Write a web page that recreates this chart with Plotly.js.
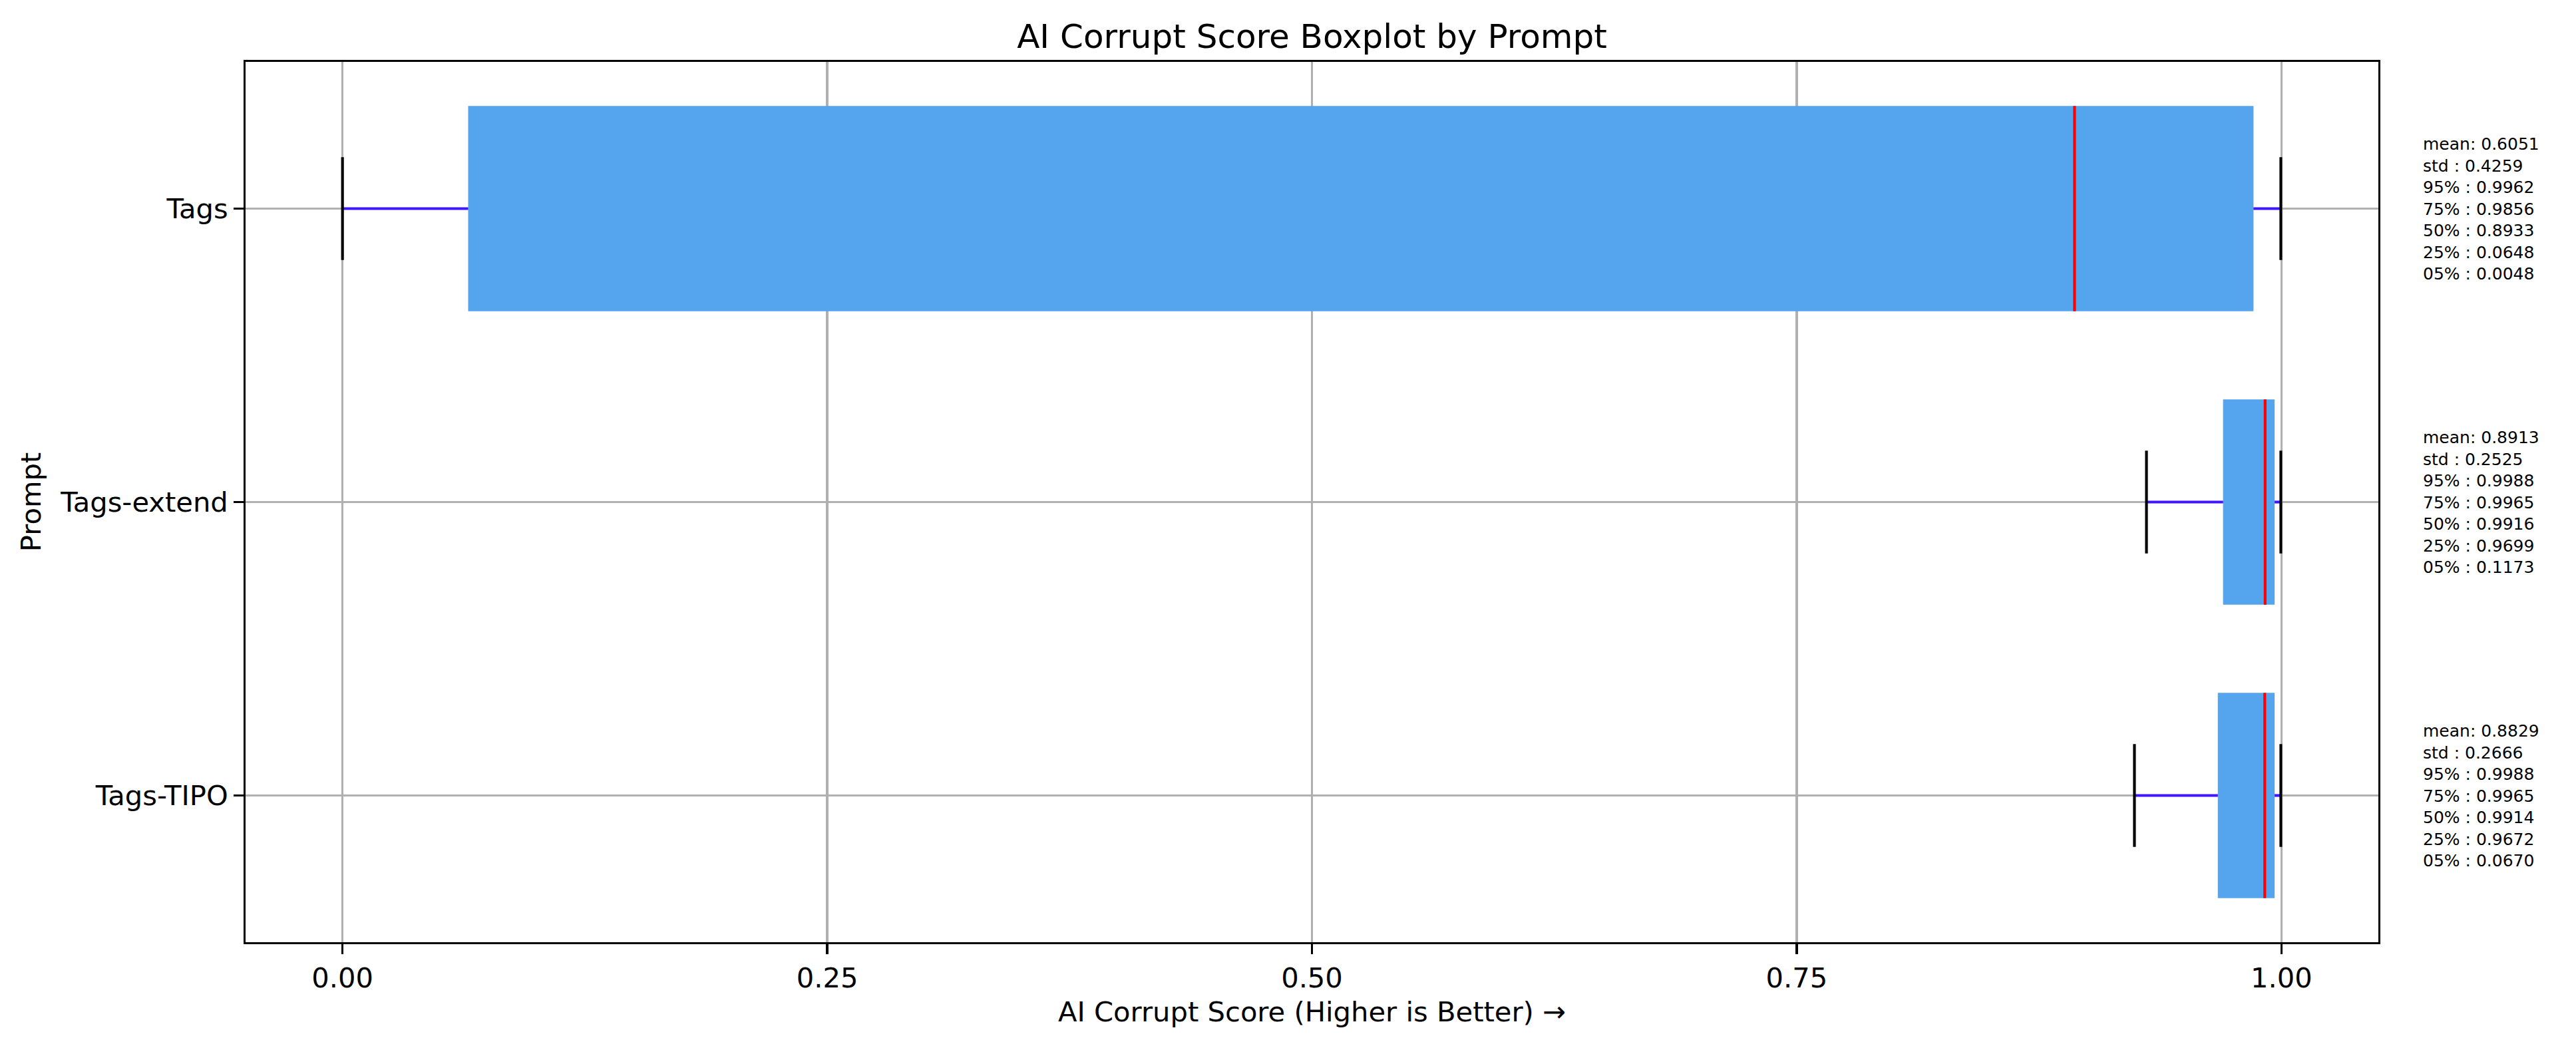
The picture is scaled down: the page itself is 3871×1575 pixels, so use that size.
<!DOCTYPE html>
<html>
<head>
<meta charset="utf-8">
<script src="https://cdn.plot.ly/plotly-3.0.1.min.js"></script>
<style>
  html, body { margin: 0; padding: 0; background: #ffffff; }
  #chart { width: 3871px; height: 1575px; }
</style>
</head>
<body>
<div id="chart"></div>
<script>
// ---- data ----
const prompts   = ["Tags-TIPO", "Tags-extend", "Tags"];
const positions = [1, 2, 3];
const q1        = [0.9672, 0.9699, 0.0648];
const median    = [0.9914, 0.9916, 0.8933];
const q3        = [0.9965, 0.9965, 0.9856];
const whiskerLo = [0.9242, 0.9304, 0.0000];
const whiskerHi = [0.9997, 0.9997, 0.9997];
const meanVals  = [0.8829, 0.8913, 0.6051];
const stdVals   = [0.2666, 0.2525, 0.4259];
const p95       = [0.9988, 0.9988, 0.9962];
const p75       = [0.9965, 0.9965, 0.9856];
const p50       = [0.9914, 0.9916, 0.8933];
const p25       = [0.9672, 0.9699, 0.0648];
const p05       = [0.0670, 0.1173, 0.0048];
const xTicks    = [0, 0.25, 0.5, 0.75, 1.0];
const xTickText = ["0.00", "0.25", "0.50", "0.75", "1.00"];

// ---- styles ----
const FONT = "DejaVu Sans, Liberation Sans, sans-serif";
const PT = 300 / 72;              // px per point at 300 dpi
const BOX_COLOR = "#55A4EE";
const WHISKER_COLOR = "#4015FF";
const BOX_WIDTH = 0.7;
const CAP_WIDTH = BOX_WIDTH / 2;
const LW = 1.0 * PT;

const traces = [];

// box bodies (bars from q1 to q3)
traces.push({
  type: "bar", orientation: "h",
  y: positions,
  base: q1,
  x: q3.map((v, i) => v - q1[i]),
  width: BOX_WIDTH,
  marker: { color: BOX_COLOR, line: { width: 0 } },
  hoverinfo: "skip", showlegend: false
});

// whiskers, medians, caps
positions.forEach((p, i) => {
  traces.push({
    type: "scatter", mode: "lines",
    x: [whiskerLo[i], q1[i]], y: [p, p],
    line: { color: WHISKER_COLOR, width: LW },
    hoverinfo: "skip", showlegend: false
  });
  traces.push({
    type: "scatter", mode: "lines",
    x: [q3[i], whiskerHi[i]], y: [p, p],
    line: { color: WHISKER_COLOR, width: LW },
    hoverinfo: "skip", showlegend: false
  });
  traces.push({
    type: "scatter", mode: "lines",
    x: [median[i], median[i]], y: [p - BOX_WIDTH / 2, p + BOX_WIDTH / 2],
    line: { color: "#FF0000", width: LW },
    hoverinfo: "skip", showlegend: false
  });
  [whiskerLo[i], whiskerHi[i]].forEach(w => {
    traces.push({
      type: "scatter", mode: "lines",
      x: [w, w], y: [p - CAP_WIDTH / 2, p + CAP_WIDTH / 2],
      line: { color: "#000000", width: LW },
      hoverinfo: "skip", showlegend: false
    });
  });
});

// stats text
const fmt = v => v.toFixed(4);
const annotations = positions.map((p, i) => ({
  xref: "paper", yref: "y",
  x: 1.0203, y: p,
  xanchor: "left", yanchor: "middle", align: "left",
  showarrow: false,
  font: { family: FONT, size: 25, color: "#000000" },
  text: [
    "mean: " + fmt(meanVals[i]),
    "std : " + fmt(stdVals[i]),
    "95% : " + fmt(p95[i]),
    "75% : " + fmt(p75[i]),
    "50% : " + fmt(p50[i]),
    "25% : " + fmt(p25[i]),
    "05% : " + fmt(p05[i])
  ].join("<br>")
}));

const axisCommon = {
  showline: true, mirror: true, linecolor: "#000000", linewidth: 0.8 * PT,
  ticks: "outside", ticklen: 3.5 * PT, tickwidth: 0.8 * PT, tickcolor: "#000000",
  showgrid: true, gridcolor: "#b0b0b0", gridwidth: 0.8 * PT,
  zeroline: false,
  tickfont: { family: FONT, size: 10 * PT, color: "#000000" }
};

const layout = {
  width: 3871, height: 1575,
  margin: { l: 369, r: 297, t: 93, b: 159, pad: 0 },
  paper_bgcolor: "#ffffff", plot_bgcolor: "#ffffff",
  showlegend: false,
  title: {
    text: "AI Corrupt Score Boxplot by Prompt",
    font: { family: FONT, size: 12 * PT, color: "#000000" },
    x: 0.5, xref: "paper", xanchor: "center",
    y: 1, yref: "paper", yanchor: "bottom",
    pad: { b: 21 }
  },
  xaxis: Object.assign({}, axisCommon, {
    range: [-0.05, 1.05],
    tickvals: xTicks, ticktext: xTickText,
    title: { text: "AI Corrupt Score (Higher is Better) →",
             font: { family: FONT, size: 10 * PT, color: "#000000" },
             standoff: 14 }
  }),
  yaxis: Object.assign({}, axisCommon, {
    range: [0.5, 3.5],
    tickvals: positions, ticktext: prompts,
    title: { text: "Prompt",
             font: { family: FONT, size: 10 * PT, color: "#000000" },
             standoff: 16 }
  }),
  annotations: annotations
};

Plotly.newPlot("chart", traces, layout, { staticPlot: true, displayModeBar: false });
</script>
</body>
</html>
